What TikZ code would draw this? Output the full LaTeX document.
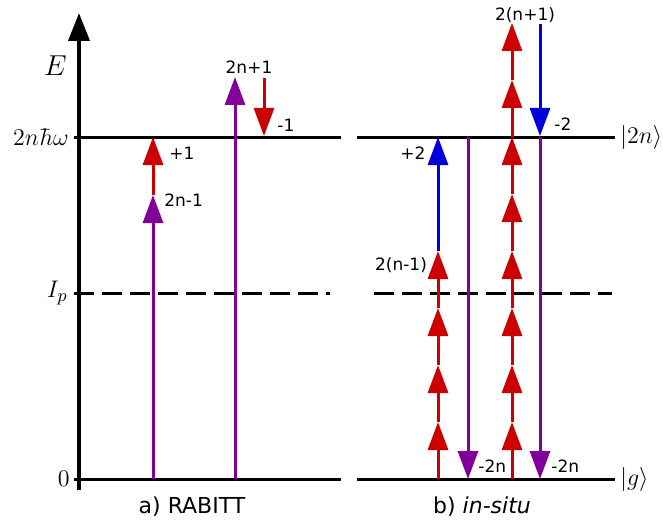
\documentclass[tikz,border=0pt]{standalone}
\usepackage{amsmath,amssymb}
\usepackage{fontspec}
\setsansfont{DejaVu Sans}
\usepackage{xcolor}
\usetikzlibrary{positioning,arrows.meta}
\definecolor{myred}{RGB}{204,0,0}
\definecolor{mypurple}{RGB}{128,0,153}
\definecolor{myblue}{RGB}{0,0,221}

\begin{document}
\begin{tikzpicture}[x=0.5pt, y=-0.5pt,
        lvl/.style={line width=1.5pt, black},
        ionlvl/.style={line width=1.5pt, black, dash pattern=on 10pt off 4pt},
        axisarr/.style={-{Triangle[width=10.5pt,length=14pt]}, line width=2pt},
        tr/.style={-{Triangle[width=10pt,length=14pt]}, line width=1.5pt},
        redarr/.style={tr, myred},
        purarr/.style={tr, mypurple},
        bluarr/.style={tr, myblue},
        lab/.style={font=\sffamily\fontsize{8.5}{9}\selectfont, inner sep=1pt},
        captext/.style={font=\sffamily\fontsize{11}{12}\selectfont, inner sep=1pt},
        mlab/.style={font=\fontsize{13}{15}\selectfont, inner sep=0.5pt},
        ket/.style={font=\fontsize{12}{14}\selectfont, inner sep=0pt}
      ]
        \useasboundingbox (0,0) rectangle (663,519);
        % energy axis and levels
        \coordinate (ax0) at (79,490);
        \coordinate (ax1) at (79,13);
        \draw[axisarr] (ax0) -- (ax1);
        \coordinate (top0) at (74,137);  \coordinate (top1) at (341,137);
        \coordinate (top2) at (357,137); \coordinate (top3) at (615,137);
        \coordinate (ip0) at (74,293);   \coordinate (ip1) at (330,293);
        \coordinate (ip2) at (374,293);  \coordinate (ip3) at (612,293);
        \coordinate (g0) at (74,479);    \coordinate (g1) at (341,479);
        \coordinate (g2) at (357,479);   \coordinate (g3) at (615,479);
        \draw[lvl] (top0) -- (top1); \draw[lvl] (top2) -- (top3);
        \draw[ionlvl] (ip0) -- (ip1); \draw[ionlvl] (ip2) -- (ip3);
        \draw[lvl] (g0) -- (g1); \draw[lvl] (g2) -- (g3);
        \node[mlab, anchor=east, font=\fontsize{14.5}{16}\selectfont] (lE) at (68,66) {$E$};
        \node[mlab, anchor=east] (l2n) at (70,137) {$2n\hbar\omega$};
        \node[mlab, anchor=east] (lIp) at (69,293) {$I_p$};
        \node[mlab, anchor=east] (l0) at (71,479) {$0$};
        \node[ket, anchor=west] (k2n) at (620,137) {$|2n\rangle$};
        \node[ket, anchor=west] (kg) at (620,479) {$|g\rangle$};

        % a) RABITT
        \coordinate (r0) at (153,479); \coordinate (r1) at (153,195);
        \coordinate (r2) at (153,137);
        \draw[purarr] (r0) -- (r1);
        \draw[redarr] (r1) -- (r2);
        \node[lab, anchor=west] at (162,200) {2n-1};
        \node[lab, anchor=west] at (167,153) {+1};
        \coordinate (s0) at (235,479); \coordinate (s1) at (235,77);
        \draw[purarr] (s0) -- (s1);
        \node[lab] at (249,67) {2n+1};
        \coordinate (d0) at (264,78); \coordinate (d1) at (264,136);
        \draw[redarr] (d0) -- (d1);
        \node[lab, anchor=west] at (275,125) {-1};
        \node[captext] (ca) at (192,507) {a) RABITT};

        % b) in-situ
        \foreach \i [evaluate=\i as \y using 479-57*\i] in {0,...,4}
            \coordinate (p\i) at (438,\y);
        \foreach \i [count=\j] in {0,...,3}
            \draw[redarr] (p\i) -- (p\j);
        \coordinate (b1) at (438,137);
        \draw[bluarr] (p4) -- (b1);
        \node[lab] at (401,265) {2(n-1)};
        \node[lab] at (413,153) {+2};
        \foreach \i [evaluate=\i as \y using 479-57*\i] in {0,...,8}
            \coordinate (q\i) at (512,\y);
        \foreach \i [count=\j] in {0,...,7}
            \draw[redarr] (q\i) -- (q\j);
        \node[lab] at (525,15) {2(n+1)};
        \coordinate (e0) at (540,24); \coordinate (e1) at (540,136);
        \draw[bluarr] (e0) -- (e1);
        \node[lab, anchor=west] at (552,124) {-2};
        \coordinate (m0) at (468,137); \coordinate (m1) at (468,479);
        \coordinate (n0) at (540,137); \coordinate (n1) at (540,479);
        \draw[purarr] (m0) -- (m1);
        \draw[purarr] (n0) -- (n1);
        \node[lab, anchor=west] at (476,466) {-2n};
        \node[lab, anchor=west] at (549,466) {-2n};
        \node[captext] (cb) at (482,507) {b) \textit{in-situ}};
\end{tikzpicture}
\end{document}
